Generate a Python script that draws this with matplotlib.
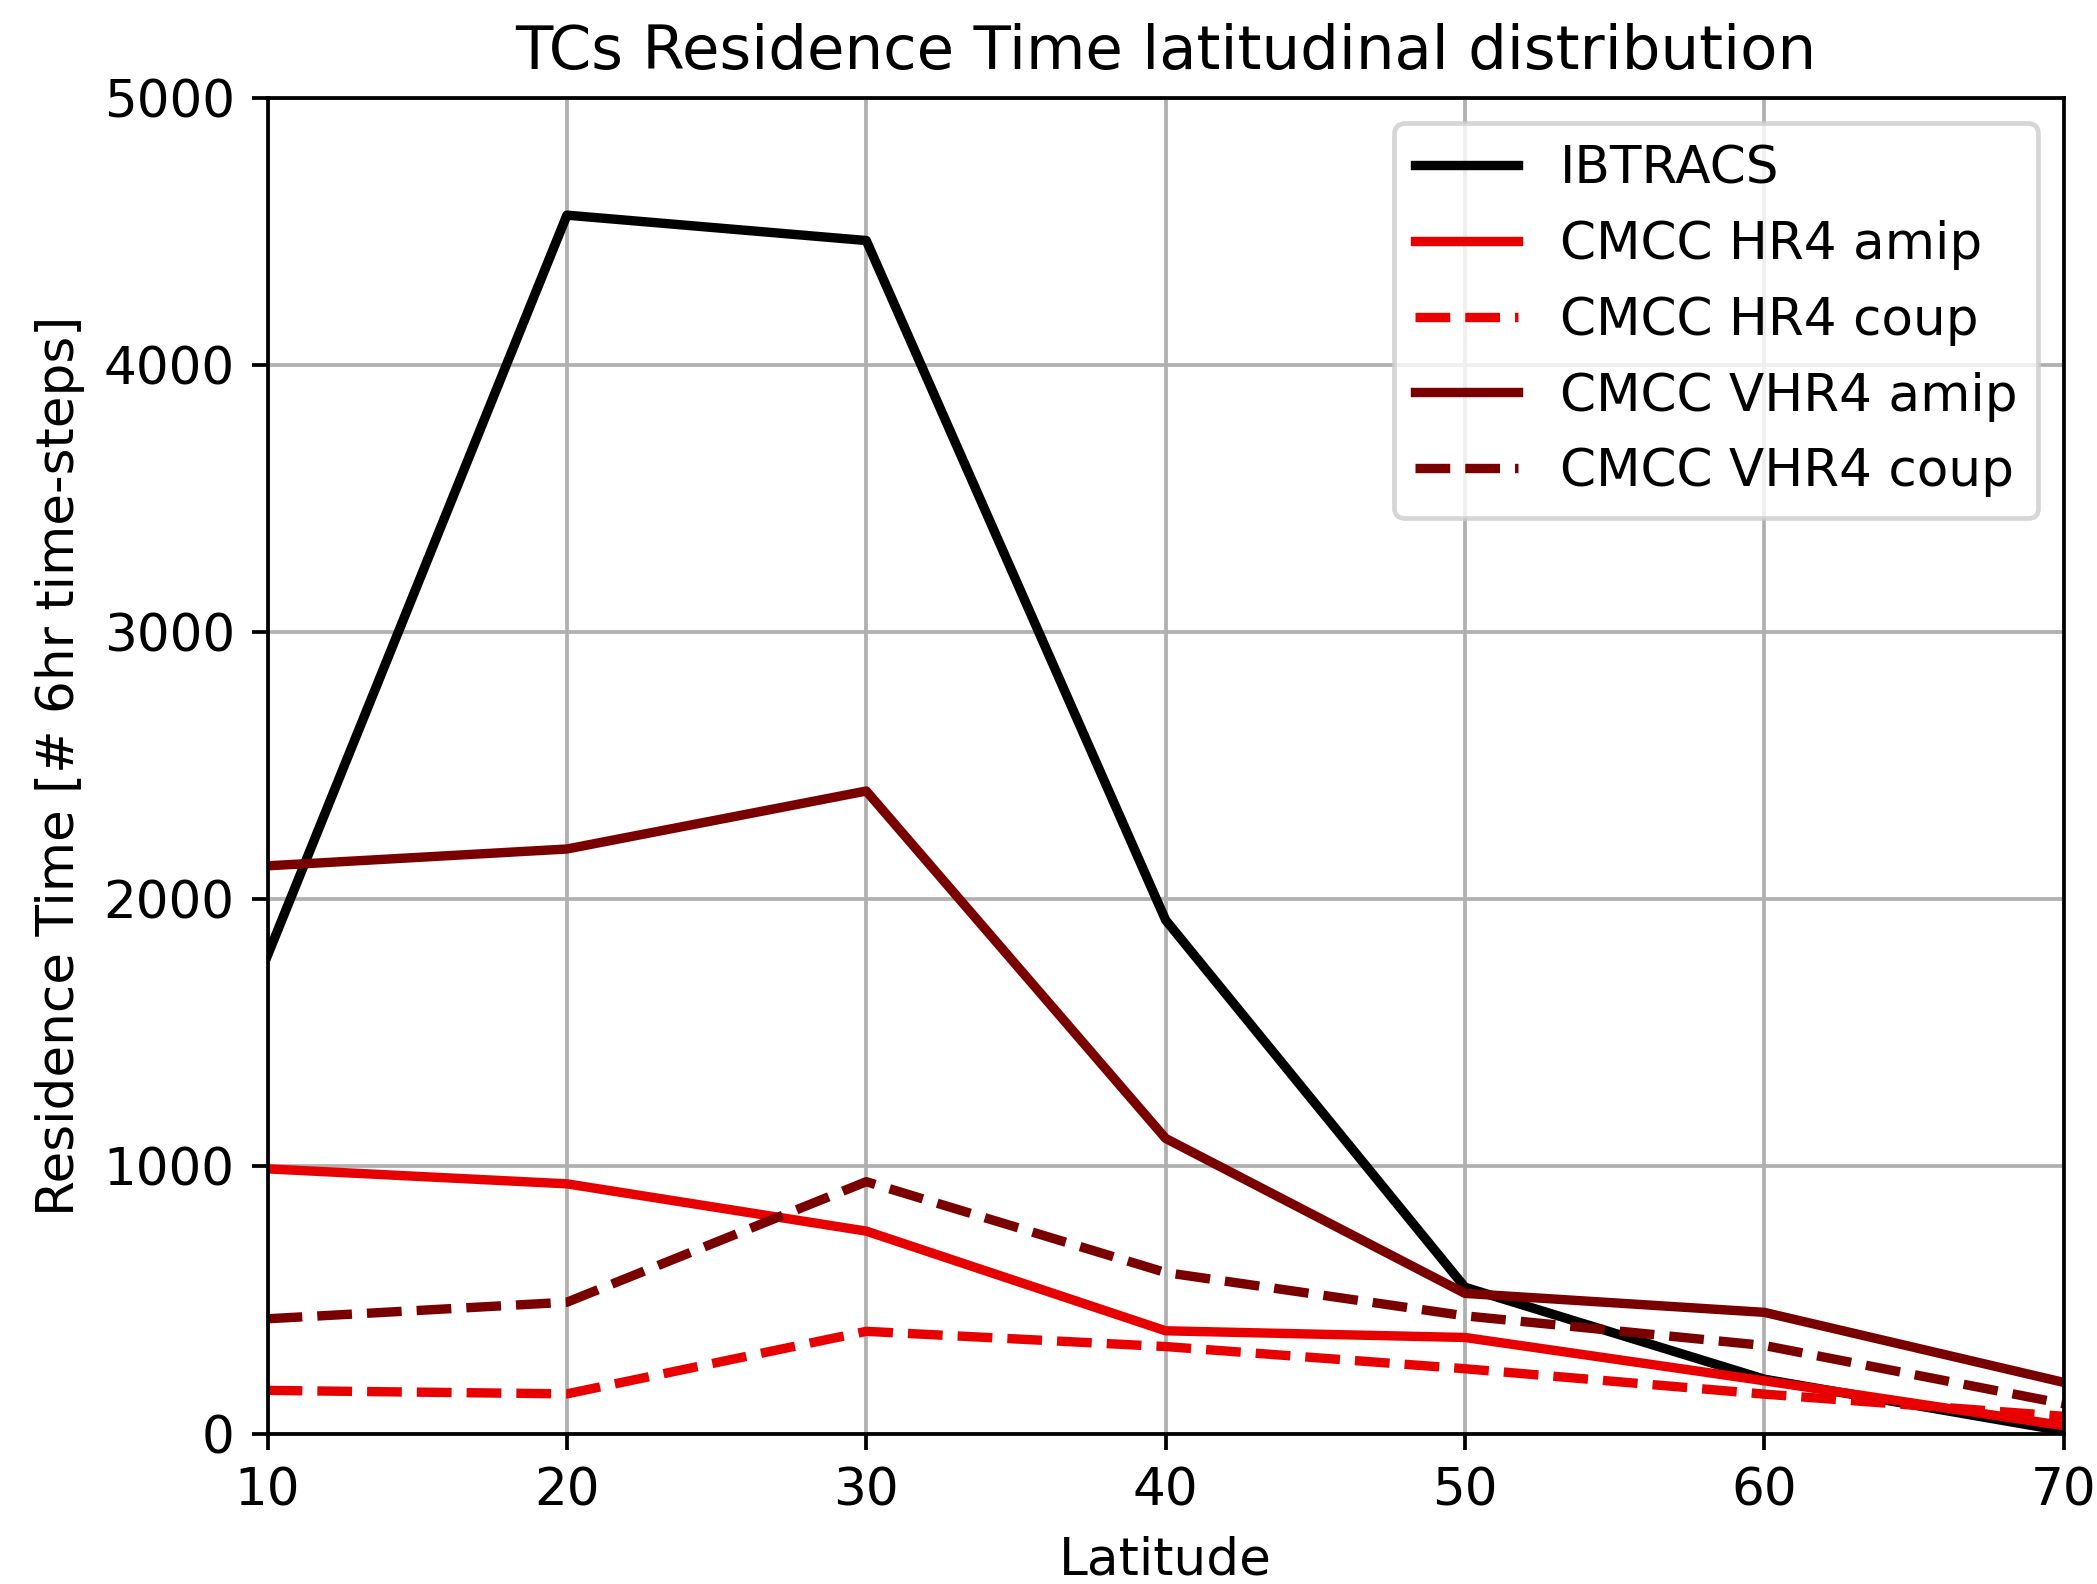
import matplotlib
matplotlib.use("Agg")
import matplotlib.pyplot as plt

# latitude bins
latitude = [10, 20, 30, 40, 50, 60, 70]

# residence time (# 6hr time-steps)
ibtracs = [1790, 4560, 4465, 1922, 548, 204, 10]
hr4_amip = [991, 935, 758, 385, 360, 198, 30]
hr4_coup = [162, 149, 383, 326, 243, 148, 65]
vhr4_amip = [2125, 2188, 2405, 1105, 525, 454, 192]
vhr4_coup = [430, 492, 943, 603, 441, 330, 112]

plt.rcParams["font.size"] = 11

fig = plt.figure(figsize=(2097 / 338, 1584 / 338), dpi=338)
ax = fig.add_axes([0.1276, 0.0949, 0.8565, 0.8435])

ax.plot(latitude, ibtracs, color="black", lw=2, label="IBTRACS")
ax.plot(latitude, hr4_amip, color="#e80000", lw=2, label="CMCC HR4 amip")
ax.plot(latitude, hr4_coup, color="#e80000", lw=2, ls="--", label="CMCC HR4 coup")
ax.plot(latitude, vhr4_amip, color="#7a0000", lw=2, label="CMCC VHR4 amip")
ax.plot(latitude, vhr4_coup, color="#7a0000", lw=2, ls="--", label="CMCC VHR4 coup")

ax.set_xlim(10, 70)
ax.set_ylim(0, 5000)
ax.set_xticks(latitude)
ax.set_yticks([0, 1000, 2000, 3000, 4000, 5000])
ax.grid(True)
ax.set_xlabel("Latitude", fontsize=11)
ax.set_ylabel("Residence Time [# 6hr time-steps]", fontsize=11)
ax.set_title("TCs Residence Time latitudinal distribution", fontsize=13)
ax.legend(loc="upper right", fontsize=11)

fig.savefig("out.png", dpi=338)
